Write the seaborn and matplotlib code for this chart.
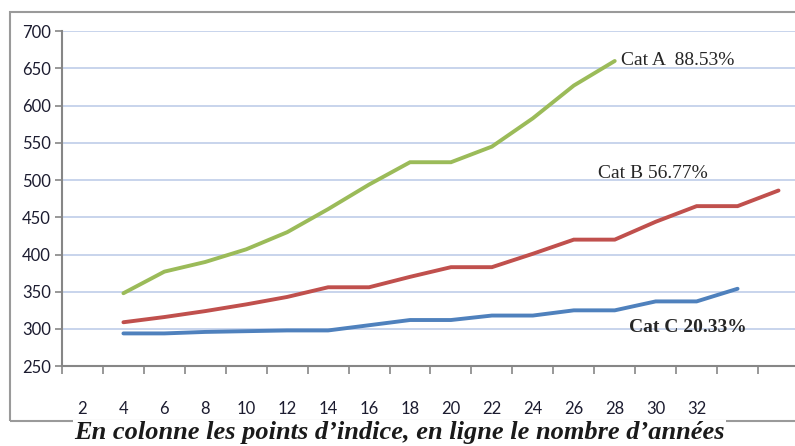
import pandas as pd
import matplotlib.pyplot as plt
from matplotlib.patches import Rectangle
import seaborn as sns

# Years (x) and index points (y)
years_a = [4, 6, 8, 10, 12, 14, 16, 18, 20, 22, 24, 26, 28]
cat_a = [348, 377, 390, 407, 430, 461, 494, 524, 524, 545, 583, 627, 660]

years_b = [4, 6, 8, 10, 12, 14, 16, 18, 20, 22, 24, 26, 28, 30, 32, 34, 36]
cat_b = [309, 316, 324, 333, 343, 356, 356, 370, 383, 383, 401, 420, 420, 444, 465, 465, 486]

years_c = [4, 6, 8, 10, 12, 14, 16, 18, 20, 22, 24, 26, 28, 30, 32, 34]
cat_c = [294, 294, 296, 297, 298, 298, 305, 312, 312, 318, 318, 325, 325, 337, 337, 354]

tick_labels = [2, 4, 6, 8, 10, 12, 14, 16, 18, 20, 22, 24, 26, 28, 30, 32]

df = pd.concat([
    pd.DataFrame({"annee": years_a, "points": cat_a, "cat": "A"}),
    pd.DataFrame({"annee": years_b, "points": cat_b, "cat": "B"}),
    pd.DataFrame({"annee": years_c, "points": cat_c, "cat": "C"}),
])

sns.set_style("white")
fig = plt.figure(figsize=(7.95, 4.46), dpi=100)
ax = fig.add_axes([0.078, 0.179, 0.927, 0.751])

palette = {"A": "#9BBB59", "B": "#C0504D", "C": "#4F81BD"}
sns.lineplot(data=df, x="annee", y="points", hue="cat", palette=palette,
             linewidth=2.8, legend=False, ax=ax, solid_joinstyle="miter")

# axes limits / ticks (category-style axis)
ax.set_xlim(1, 37)
ax.set_ylim(250, 700)
ax.set_yticks(range(250, 701, 50))
ax.set_xticks(range(1, 38, 2))
ax.set_xticklabels([])
ax.set_xticks(tick_labels, minor=True)
ax.set_xticklabels([str(t) for t in tick_labels], minor=True)
ax.tick_params(axis="x", which="major", bottom=True, length=6, width=1.2,
               color="#868686", direction="out")
ax.tick_params(axis="x", which="minor", bottom=True, length=0, pad=25,
               labelsize=12, labelcolor="#1c1c30")
ax.tick_params(axis="y", left=True, length=5, width=1.2, color="#868686", direction="out",
               labelsize=12, labelcolor="#1c1c30", pad=3)
for lab in ax.get_xticklabels(minor=True) + ax.get_yticklabels():
    lab.set_family("Lato")

ax.grid(axis="y", color="#bfcde9", linewidth=1.2)
ax.set_axisbelow(True)
for side in ["top", "right"]:
    ax.spines[side].set_visible(False)
for side in ["left", "bottom"]:
    ax.spines[side].set_color("#868686")
    ax.spines[side].set_linewidth(1.5)
ax.set_xlabel("")
ax.set_ylabel("")

# series labels
ax.text(28.3, 660, "Cat A  88.53%", family="Liberation Serif", fontsize=14, va="center")
ax.text(27.2, 509, "Cat B 56.77%", family="Liberation Serif", fontsize=14, va="center")
ax.text(28.7, 302, "Cat C 20.33%", family="Liberation Serif", fontsize=14,
        weight="bold", va="center")

# outer chart frame
fig.patches.append(Rectangle((0.0126, 0.056), 1.2, 0.918, transform=fig.transFigure,
                             fill=False, edgecolor="#9a9a9a", linewidth=1.5))

fig.text(0.503, 0.03, "En colonne les points d\u2019indice, en ligne le nombre d\u2019ann\u00e9es",
         family="Liberation Serif", fontsize=19, weight="bold", style="italic",
         ha="center", va="center", color="#1a1a1a",
         bbox=dict(facecolor="white", edgecolor="none", pad=1))

fig.savefig("out.png", dpi=100)
